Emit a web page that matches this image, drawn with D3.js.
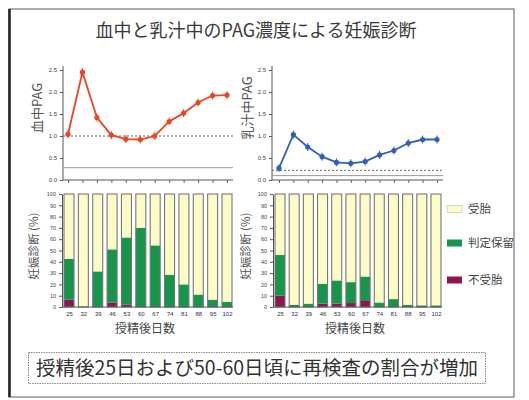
<!DOCTYPE html>
<html>
<head>
<meta charset="utf-8">
<script src="https://cdn.jsdelivr.net/npm/d3@7/dist/d3.min.js"></script>
<style>
  html, body { margin: 0; padding: 0; background: #fff; }
  svg { display: block; font-family: "Noto Sans CJK JP", "Noto Sans", sans-serif; }
</style>
</head>
<body>
<svg id="chart" width="529" height="400"></svg>
<script>
// Days after insemination
const days = [25, 32, 39, 46, 53, 60, 67, 74, 81, 88, 95, 102];

// PAG concentration (blood / milk)
const bloodPAG = [1.04, 2.45, 1.42, 1.02, 0.93, 0.92, 1.0, 1.33, 1.52, 1.76, 1.92, 1.93];
const milkPAG  = [0.27, 1.03, 0.75, 0.53, 0.40, 0.38, 0.42, 0.57, 0.67, 0.84, 0.92, 0.92];

// Diagnosis shares (%) — 不受胎 / 判定保留 ; 受胎 is the remainder
const bloodOpen    = [6.5, 0, 0, 4, 2, 0, 0, 0, 0, 0, 0, 0];
const bloodPending = [36, 0, 31.5, 47, 59.5, 70, 54.5, 28.5, 20, 11, 6.5, 4.5];
const milkOpen     = [10, 0, 0, 3, 3, 3.5, 6, 0, 0, 0, 0, 0];
const milkPending  = [36, 2, 3, 17.5, 20.5, 18.5, 21, 4, 7, 2, 1.5, 1.5];

// Cut-off lines on the PAG charts
const bloodCutoffs = [1.0, 0.28];
const milkCutoffs  = [0.22, 0.1];

const pagTicks = [0, 0.5, 1.0, 1.5, 2.0, 2.5];
const pctTicks = [0, 10, 20, 30, 40, 50, 60, 70, 80, 90, 100];

const categories = ["受胎", "判定保留", "不受胎"];
const colors = { "受胎": "#fdfbc6", "判定保留": "#15964a", "不受胎": "#8e1552" };

const svg = d3.select("#chart");

// outer frame
svg.append("rect").attr("x", 9).attr("y", 9).attr("width", 505).attr("height", 388)
  .attr("fill", "#fff").attr("stroke", "#777").attr("stroke-width", 1.2);
svg.append("line").attr("x1", 9.5).attr("x2", 9.5).attr("y1", 9).attr("y2", 397)
  .attr("stroke", "#222").attr("stroke-width", 2.5);

// title
svg.append("text").attr("x", 256).attr("y", 37).attr("text-anchor", "middle")
  .attr("font-size", 18).attr("fill", "#3a3a3a").text("血中と乳汁中のPAG濃度による妊娠診断");

function pagChart(x0, x1, axisX, values, cutoffs, color, label, labelX) {
  const x = d3.scalePoint().domain(days).range([x0, x1]);
  const y = d3.scaleLinear().domain([0, 2.5]).range([180, 70]);
  const g = svg.append("g");

  const yAxis = g.append("g").attr("transform", `translate(${axisX},0)`)
    .call(d3.axisLeft(y).tickValues(pagTicks).tickFormat(d3.format(".1f")).tickSize(3).tickSizeOuter(0));
  yAxis.select(".domain").attr("stroke", "#555").attr("d", `M0,${y(0)}V66`);
  yAxis.selectAll("text").attr("font-size", 6).attr("fill", "#444").attr("font-family", "Liberation Sans, Arial");
  yAxis.selectAll("line").attr("stroke", "#555");

  const xAxis = g.append("g").attr("transform", `translate(0,${y(0)})`)
    .call(d3.axisBottom(x).tickSize(3).tickFormat(""));
  xAxis.select(".domain").attr("stroke", "#555").attr("d", `M${axisX},0H${x1 + 6}`);
  xAxis.selectAll("line").attr("stroke", "#666");

  // cut-off lines
  g.append("line").attr("x1", axisX).attr("x2", x1 + 6)
    .attr("y1", y(cutoffs[0])).attr("y2", y(cutoffs[0]))
    .attr("stroke", "#666").attr("stroke-width", 1).attr("stroke-dasharray", "2,2");
  g.append("line").attr("x1", axisX).attr("x2", x1 + 6)
    .attr("y1", y(cutoffs[1])).attr("y2", y(cutoffs[1]))
    .attr("stroke", "#999").attr("stroke-width", 1);

  const line = d3.line().x((d, i) => x(days[i])).y(d => y(d));
  g.append("path").datum(values).attr("d", line).attr("fill", "none")
    .attr("stroke", color).attr("stroke-width", 1.8);
  g.selectAll("circle.pt").data(values).join("circle")
    .attr("cx", (d, i) => x(days[i])).attr("cy", d => y(d)).attr("r", 2.6)
    .attr("fill", color);
  g.selectAll("line.err").data(values).join("line")
    .attr("x1", (d, i) => x(days[i])).attr("x2", (d, i) => x(days[i]))
    .attr("y1", d => y(d) - 4).attr("y2", d => y(d) + 4)
    .attr("stroke", color).attr("stroke-width", 1);

  svg.append("text").attr("transform", `translate(${labelX},${108}) rotate(-90)`)
    .attr("text-anchor", "middle").attr("font-size", 13).attr("fill", "#555").text(label);
}

function barChart(x0, x1, axisX, open, pending, label, labelX, titleX) {
  const x = d3.scalePoint().domain(days).range([x0, x1]);
  const y = d3.scaleLinear().domain([0, 100]).range([307, 194]);
  const bw = 10;
  const g = svg.append("g");

  const rows = days.map((d, i) => ({
    day: d,
    "不受胎": open[i],
    "判定保留": pending[i],
    "受胎": 100 - open[i] - pending[i]
  }));
  const stack = d3.stack().keys(["不受胎", "判定保留", "受胎"])(rows);

  g.selectAll("g.layer").data(stack).join("g")
    .attr("fill", s => colors[s.key])
    .selectAll("rect").data(s => s).join("rect")
    .attr("x", d => x(d.data.day) - bw / 2)
    .attr("width", bw)
    .attr("y", d => y(d[1]))
    .attr("height", d => y(d[0]) - y(d[1]));

  // bar outlines
  g.selectAll("rect.outline").data(rows).join("rect")
    .attr("x", d => x(d.day) - bw / 2).attr("width", bw)
    .attr("y", y(100)).attr("height", y(0) - y(100))
    .attr("fill", "none").attr("stroke", "#777").attr("stroke-width", 1.1);

  const yAxis = g.append("g").attr("transform", `translate(${axisX},0)`)
    .call(d3.axisLeft(y).tickValues(pctTicks).tickSize(3).tickSizeOuter(0));
  yAxis.select(".domain").attr("stroke", "#555");
  yAxis.selectAll("text").attr("font-size", 5.5).attr("fill", "#444").attr("font-family", "Liberation Sans, Arial");
  yAxis.selectAll("line").attr("stroke", "#555");

  const xAxis = g.append("g").attr("transform", `translate(0,${y(0)})`)
    .call(d3.axisBottom(x).tickSize(0).tickPadding(5));
  xAxis.select(".domain").attr("stroke", "#555").attr("d", `M${axisX},0H${x1 + 6}`);
  xAxis.selectAll("text").attr("font-size", 6).attr("fill", "#333").attr("font-family", "Liberation Sans, Arial");

  svg.append("text").attr("transform", `translate(${labelX},${246}) rotate(-90)`)
    .attr("text-anchor", "middle").attr("font-size", 11.5).attr("fill", "#555").text(label);

  svg.append("text").attr("x", titleX).attr("y", 333).attr("text-anchor", "middle")
    .attr("font-size", 12).attr("fill", "#444").text("授精後日数");
}

pagChart(68, 227, 63, bloodPAG, bloodCutoffs, "#ee4422", "血中PAG", 42);
pagChart(279, 437, 272, milkPAG, milkCutoffs, "#2f5fc0", "乳汁中PAG", 252);

barChart(69, 227, 62, bloodOpen, bloodPending, "妊娠診断 (%)", 38, 145);
barChart(280, 436, 273, milkOpen, milkPending, "妊娠診断 (%)", 250, 355);

// legend
const legend = svg.append("g");
const legendY = { "受胎": 209, "判定保留": 243, "不受胎": 280 };
categories.forEach(c => {
  legend.append("rect").attr("x", 447).attr("y", legendY[c] - 3.5).attr("width", 15).attr("height", 7)
    .attr("fill", colors[c]).attr("stroke", c === "受胎" ? "#bbb" : "none").attr("stroke-width", 0.6);
  legend.append("text").attr("x", 468).attr("y", legendY[c] + 4).attr("font-size", 11.5)
    .attr("fill", "#444").text(c);
});

// summary box
svg.append("rect").attr("x", 28.5).attr("y", 352.5).attr("width", 457).attr("height", 31)
  .attr("fill", "#fff").attr("stroke", "#888").attr("stroke-width", 1).attr("stroke-dasharray", "1.5,1");
svg.append("text").attr("x", 257).attr("y", 375).attr("text-anchor", "middle")
  .attr("font-size", 19.5).attr("fill", "#333").text("授精後25日および50-60日頃に再検査の割合が増加");
</script>
</body>
</html>
